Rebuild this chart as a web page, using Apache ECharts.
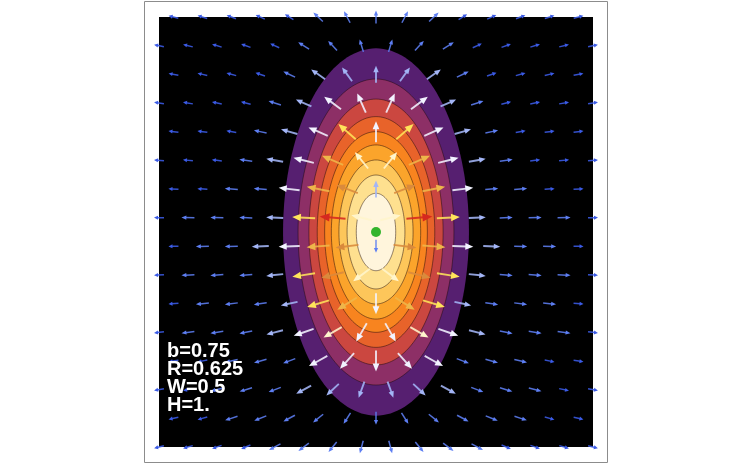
<!DOCTYPE html>
<html>
<head>
<meta charset="utf-8">
<script src="https://cdn.jsdelivr.net/npm/echarts@6/dist/echarts.min.js"></script>
<style>
html,body{margin:0;padding:0;background:#fff;}
#chart{width:751px;height:464px;}
</style>
</head>
<body>
<div id="chart"></div>
<script>
// ---------- data ----------
// contour bands (elliptical level curves), outer -> inner, data units
const contourRx = [0.514, 0.431, 0.371, 0.325, 0.284, 0.247, 0.205, 0.160, 0.109];
const contourRy = [1.025, 0.854, 0.742, 0.644, 0.560, 0.486, 0.402, 0.318, 0.216];
const contourColors = ['#561F70', '#8D2F66', '#CB4740', '#E8632A', '#F8841F', '#FBA42B', '#FDC65A', '#FEE08F', '#FFF5DC'];

// vector-plot sample rows (staggered grid)
const rowY = [1.2, 1.04, 0.88, 0.72, 0.56, 0.40, 0.24, 0.08, -0.08, -0.24, -0.40, -0.56, -0.72, -0.88, -1.04, -1.2];
const colsEven = [-1.12, -0.96, -0.8, -0.64, -0.48, -0.32, -0.16, 0, 0.16, 0.32, 0.48, 0.64, 0.8, 0.96, 1.12];
const colsOdd = [-1.2, -1.04, -0.88, -0.72, -0.56, -0.4, -0.24, -0.08, 0.08, 0.24, 0.4, 0.56, 0.72, 0.88, 1.04, 1.2];

// arrow directions (degrees, counter-clockwise from +x)
const arrowAngles = [
  [165,163,159,155,148,137,118,90,62,43,32,25,21,17,15],
  [168,166,163,160,155,147,133,107,73,47,33,25,20,17,14,12],
  [169,167,165,161,155,145,126,90,54,35,25,19,15,13,11],
  [171,170,168,166,162,156,143,114,66,37,24,18,14,12,10,9],
  [173,172,170,168,164,156,139,90,41,24,16,12,10,8,7],
  [175,174,173,172,170,166,157,129,51,23,14,10,8,7,6,5],
  [177,176,176,175,173,169,159,90,21,11,7,5,4,4,3],
  [179,179,179,178,178,177,175,166,14,5,3,2,2,1,1,1],
  [181,181,181,182,182,184,187,-90,-7,-4,-2,-2,-1,-1,-1],
  [183,183,184,185,186,189,194,217,-37,-14,-9,-6,-5,-4,-3,-3],
  [185,186,187,189,192,197,212,-90,-32,-17,-12,-9,-7,-6,-5],
  [187,188,189,191,194,199,210,240,-60,-30,-19,-14,-11,-9,-8,-7],
  [189,191,193,196,201,209,228,-90,-48,-29,-21,-16,-13,-11,-9],
  [190,192,194,197,201,209,223,250,-70,-43,-29,-21,-17,-14,-12,-10],
  [193,195,198,202,208,219,238,-90,-58,-39,-28,-22,-18,-15,-13],
  [194,196,199,203,208,217,231,255,-75,-51,-37,-28,-23,-19,-16,-14]
];
// arrow magnitude classes (B weakest ... r strongest)
const arrowClasses = [
  'BBBBBbbbbbBBBBB',
  'BBBBBbbbbbbBBBBB',
  'BBBBblllllbBBBB',
  'BBBBblwwwwlbBBBB',
  'BBBblwywywlbBBB',
  'BBBblwgppgwlbBBB',
  'BBbbwgologwbbBB',
  'BbbblyrpprylbbbB',
  'BbblwgobogwlbbB',
  'BbbblyoppoylbbbB',
  'BbbblygwgylbbbB',
  'BbbblwpwwpwlbbbB',
  'BBbbbwwwwwbbbBB',
  'BBbbbllllllbbbBB',
  'BBbbbbbbbbbbbBB',
  'BBBBbbbbbbbbBBBB'
];
const classKeys = 'Bblwpygor';
const classColors = ['#3B5BE6', '#5D7EF2', '#A3B5F6', '#F2F3FF', '#FFF5CC', '#FFE45A', '#EEB64A', '#DA8A3C', '#D6281F'];
const classLengths = [10, 13, 17, 21, 21, 23, 23, 23, 26];

const centerPoint = [[0, 0]];
const labelLines = ['b=0.75', 'R=0.625', 'W=0.5', 'H=1.'];

// ---------- build series data ----------
const arrowData = [];
rowY.forEach(function (y, i) {
  const cols = (i % 2 === 0) ? colsEven : colsOdd;
  cols.forEach(function (x, j) {
    arrowData.push([x, y, arrowAngles[i][j], classKeys.indexOf(arrowClasses[i][j])]);
  });
});
const contourData = contourRx.map(function (rx, i) { return [rx, contourRy[i], i]; });

const chart = echarts.init(document.getElementById('chart'), null, {renderer: 'canvas'});

function renderContour(params, api) {
  const rx = api.value(0), ry = api.value(1), idx = api.value(2);
  const pts = [];
  const N = 160;
  for (let t = 0; t < N; t++) {
    const a = t / N * Math.PI * 2;
    pts.push(api.coord([rx * Math.cos(a), ry * Math.sin(a)]));
  }
  return {
    type: 'polygon',
    shape: {points: pts},
    style: {
      fill: contourColors[idx],
      stroke: idx === 0 ? null : 'rgba(30,10,10,0.55)',
      lineWidth: idx === 0 ? 0 : 0.9
    },
    z2: idx
  };
}

function renderArrow(params, api) {
  const c = api.coord([api.value(0), api.value(1)]);
  const ang = api.value(2) * Math.PI / 180;
  const ci = api.value(3);
  const L = classLengths[ci];
  const col = classColors[ci];
  const dx = Math.cos(ang), dy = -Math.sin(ang);
  const px = -dy, py = dx;
  const tail = [c[0] - dx * L / 2, c[1] - dy * L / 2];
  const tip = [c[0] + dx * L / 2, c[1] + dy * L / 2];
  const h = Math.max(4, L * 0.38);
  const hw = Math.max(2, L * 0.16);
  const base = [tip[0] - dx * h, tip[1] - dy * h];
  return {
    type: 'group',
    children: [
      {
        type: 'line',
        shape: {x1: tail[0], y1: tail[1], x2: base[0] + dx, y2: base[1] + dy},
        style: {stroke: col, lineWidth: L <= 13 ? 1.5 : 1.9, opacity: 0.88}
      },
      {
        type: 'polygon',
        shape: {points: [tip, [base[0] + px * hw, base[1] + py * hw], [base[0] - px * hw, base[1] - py * hw]]},
        style: {fill: col}
      }
    ]
  };
}

const option = {
  animation: false,
  backgroundColor: '#fff',
  grid: {left: 159, top: 17, width: 434, height: 430, show: true, backgroundColor: '#000', borderWidth: 0},
  xAxis: {type: 'value', min: -1.2, max: 1.2, show: false},
  yAxis: {type: 'value', min: -1.2, max: 1.2, show: false},
  graphic: [
    {
      type: 'rect', z: -10, silent: true,
      shape: {x: 144.5, y: 1.5, width: 463, height: 461},
      style: {fill: 'none', stroke: '#8c8c8c', lineWidth: 1}
    },
    {
      type: 'text', left: 167, top: 341, z: 100,
      style: {
        text: labelLines.join('\n'),
        font: 'bold 20px "Liberation Sans", Arial, sans-serif',
        fill: '#ffffff',
        lineHeight: 18
      }
    }
  ],
  series: [
    {
      type: 'custom',
      coordinateSystem: 'cartesian2d',
      renderItem: renderContour,
      data: contourData,
      z: 1,
      silent: true
    },
    {
      type: 'custom',
      coordinateSystem: 'cartesian2d',
      renderItem: renderArrow,
      data: arrowData,
      clip: false,
      z: 3,
      silent: true
    },
    {
      type: 'scatter',
      data: centerPoint,
      symbolSize: 10,
      itemStyle: {color: '#00A400'},
      z: 4,
      silent: true
    }
  ]
};
chart.setOption(option);
</script>
</body>
</html>
